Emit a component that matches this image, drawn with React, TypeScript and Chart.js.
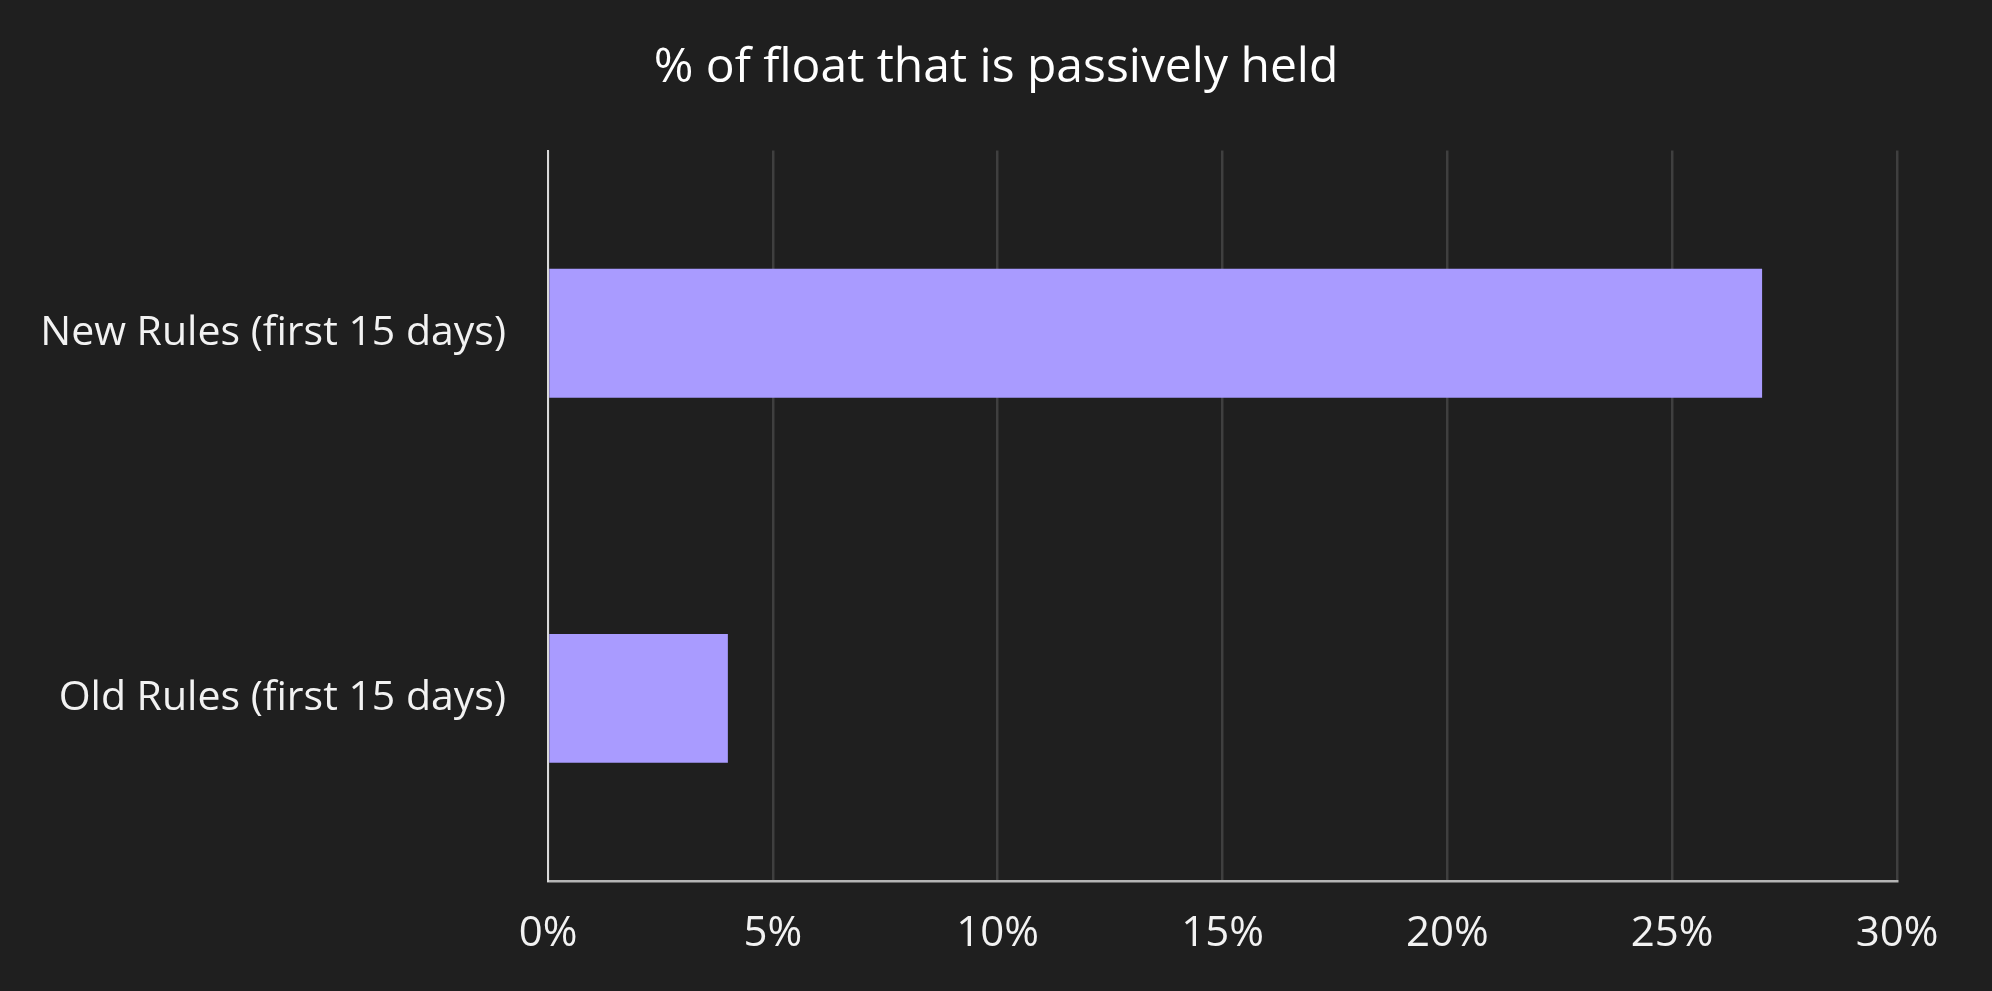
import React, { useEffect, useRef } from "react";
import { Chart, registerables } from "chart.js";

Chart.register(...registerables);

const categories: string[] = ["New Rules (first 15 days)", "Old Rules (first 15 days)"];
const passiveShare: number[] = [27, 4];
const xTicks: number[] = [0, 5, 10, 15, 20, 25, 30];
const chartTitle = "% of float that is passively held";

const BG = "#1f1f1f";
const FONT = "'Open Sans', 'Noto Sans', sans-serif";

export default function App() {
  const ref = useRef<HTMLCanvasElement | null>(null);

  useEffect(() => {
    document.body.style.margin = "0";
    document.body.style.background = BG;
    const canvas = ref.current;
    if (!canvas) return;
    const chart = new Chart(canvas, {
      type: "bar",
      data: {
        labels: categories,
        datasets: [
          {
            data: passiveShare,
            backgroundColor: "#a99bff",
            borderWidth: 0,
            categoryPercentage: 1,
            barPercentage: 0.353,
          },
        ],
      },
      options: {
        indexAxis: "y",
        animation: false,
        responsive: false,
        maintainAspectRatio: false,
        devicePixelRatio: 1,
        layout: { padding: 0 },
        plugins: {
          legend: { display: false },
          tooltip: { enabled: false },
          title: {
            display: true,
            text: chartTitle,
            color: "#ffffff",
            font: { family: FONT, size: 48, weight: "normal" },
            padding: { top: 40, bottom: 53 },
          },
        },
        scales: {
          x: {
            type: "linear",
            min: xTicks[0],
            max: xTicks[xTicks.length - 1],
            afterBuildTicks: (scale: any) => {
              scale.ticks = xTicks.map((v) => ({ value: v }));
            },
            afterFit: (scale: any) => {
              scale.height = 110;
            },
            ticks: {
              color: "#f2f2f2",
              font: { family: FONT, size: 42 },
              padding: 28,
              callback: (v: any) => `${v}%`,
            },
            grid: {
              color: "#3f3f3f",
              lineWidth: 2.5,
              drawTicks: false,
            },
            border: { color: "#b5b5b5", width: 2.5 },
          },
          y: {
            type: "category",
            afterFit: (scale: any) => {
              scale.width = 548;
            },
            ticks: {
              color: "#f2f2f2",
              font: { family: FONT, size: 41 },
              padding: 42,
            },
            grid: { display: false, drawTicks: false },
            border: { color: "#d9d9d9", width: 2 },
          },
          yRight: {
            type: "category",
            position: "right",
            afterFit: (scale: any) => {
              scale.width = 95;
            },
            ticks: { display: false },
            grid: { display: false, drawTicks: false },
            border: { display: false },
          },
        },
      },
    });
    return () => chart.destroy();
  }, []);

  return (
    <div style={{ width: 1992, height: 991, background: BG, position: "relative" }}>
      <canvas ref={ref} width={1992} height={991} style={{ display: "block", width: 1992, height: 991 }} />
    </div>
  );
}
